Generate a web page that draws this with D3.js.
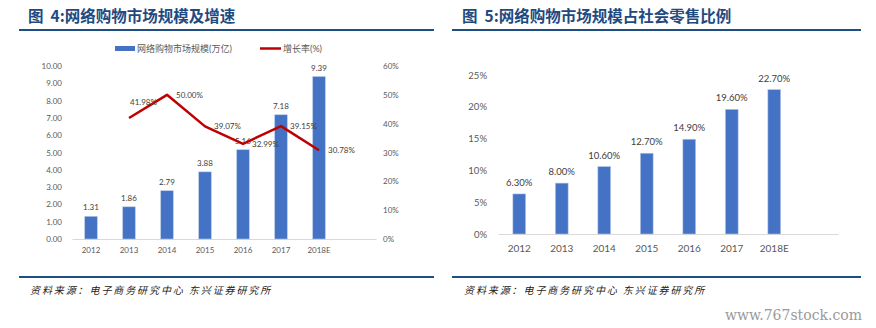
<!DOCTYPE html>
<html>
<head>
<meta charset="utf-8">
<script src="https://cdn.jsdelivr.net/npm/d3@7"></script>
<style>
  body { margin: 0; background: #fff; }
  svg text { font-family: Lato, "Noto Sans CJK SC", sans-serif; }
</style>
</head>
<body>
<div id="container"></div>
<script>
/* DATA */
const years = ["2012", "2013", "2014", "2015", "2016", "2017", "2018E"]
const marketSize = [1.31, 1.86, 2.79, 3.88, 5.16, 7.18, 9.39]        // 万亿
const growthYears = ["2013", "2014", "2015", "2016", "2017", "2018E"]
const growthRate = [41.98, 50.00, 39.07, 32.99, 39.15, 30.78]         // %
const shareOfRetail = [6.30, 8.00, 10.60, 12.70, 14.90, 19.60, 22.70] // %
const leftTicks = [0, 1, 2, 3, 4, 5, 6, 7, 8, 9, 10]
const rightTicks = [0, 10, 20, 30, 40, 50, 60]
const shareTicks = [0, 5, 10, 15, 20, 25]

const width = 876, height = 328
const blue = "#4472c4", red = "#c00000", navy = "#1f4a80", grey = "#595959"

const svg = d3.select("#container")
    .append("svg")
    .attr("width", width)
    .attr("height", height)

// HEADERS & FOOTERS =====================================
function frame(x0, x1, titleX, num, title) {
    const t = svg.append("text")
        .attr("x", titleX)
        .attr("y", 21.5)
        .style("font-family", "'Noto Sans CJK SC', sans-serif")
        .style("font-size", "15.5px")
        .style("font-weight", "bold")
        .attr("fill", navy)
    t.append("tspan").text("图")
    t.append("tspan").attr("dx", 7).text(num + ":" + title)
    svg.append("line")
        .attr("x1", x0).attr("x2", x1)
        .attr("y1", 30).attr("y2", 30)
        .attr("stroke", "#1f4e82").attr("stroke-width", 2)
    svg.append("line")
        .attr("x1", x0).attr("x2", x1)
        .attr("y1", 277).attr("y2", 277)
        .attr("stroke", "#1f4e82").attr("stroke-width", 2)
    svg.append("text")
        .attr("x", titleX + 2)
        .attr("y", 294)
        .style("font-family", "'Noto Sans CJK SC', sans-serif")
        .style("font-size", "10px")
        .style("font-style", "italic")
        .style("letter-spacing", "1.9px")
        .attr("fill", "#222")
        .text("资料来源：电子商务研究中心 东兴证券研究所")
}
frame(19, 434, 28, "4", "网络购物市场规模及增速")
frame(452, 861, 462, "5", "网络购物市场规模占社会零售比例")

// CHART 1: BARS + LINE ==================================
const x1 = d3.scaleBand()
    .domain(years.concat([""]))
    .range([72, 376])
    .paddingInner(0.67)
    .paddingOuter(0.335)

const yL = d3.scaleLinear().domain([0, 10]).range([239, 66])
const yR = d3.scaleLinear().domain([0, 60]).range([239, 66])

// baseline
svg.append("g")
    .attr("transform", "translate(0,239)")
    .call(d3.axisBottom(x1).tickSize(0).tickPadding(8))
    .call(g => g.select(".domain").attr("stroke", "#d9d9d9"))
    .call(g => g.selectAll("text").attr("fill", grey).style("font-size", "8px"))

svg.append("g")
    .attr("transform", "translate(68,0)")
    .call(d3.axisLeft(yL).tickValues(leftTicks).tickFormat(d3.format(".2f")).tickSize(0).tickPadding(6))
    .call(g => g.select(".domain").remove())
    .call(g => g.selectAll("text").attr("fill", grey).style("font-size", "8px"))

svg.append("g")
    .attr("transform", "translate(383,0)")
    .call(d3.axisRight(yR).tickValues(rightTicks).tickFormat(d => d + "%").tickSize(0).tickPadding(0))
    .call(g => g.select(".domain").remove())
    .call(g => g.selectAll("text").attr("fill", grey).style("font-size", "8px"))

svg.append("g").selectAll("rect")
    .data(marketSize)
    .join("rect")
    .attr("x", (d, i) => x1(years[i]))
    .attr("y", d => yL(d))
    .attr("width", x1.bandwidth())
    .attr("height", d => yL(0) - yL(d))
    .attr("fill", blue)
    .attr("stroke", "#b4c7e7").attr("stroke-width", 0.6)

svg.append("g").selectAll("text")
    .data(marketSize)
    .join("text")
    .attr("x", (d, i) => x1(years[i]) + x1.bandwidth() / 2)
    .attr("y", d => yL(d) - 6)
    .attr("text-anchor", "middle")
    .attr("fill", "#404040")
    .style("font-size", "8px")
    .text(d => d.toFixed(2))

const line = d3.line()
    .x((d, i) => x1(growthYears[i]) + x1.bandwidth() / 2)
    .y(d => yR(d))

svg.append("path")
    .datum(growthRate)
    .attr("d", line)
    .attr("fill", "none")
    .attr("stroke", red)
    .attr("stroke-width", 2.5)
    .attr("stroke-linejoin", "round")

svg.append("g").selectAll("text")
    .data(growthRate)
    .join("text")
    .attr("x", (d, i) => x1(growthYears[i]) + x1.bandwidth() / 2 + (i === 0 ? 1 : 9))
    .attr("y", (d, i) => yR(d) + (i === 0 ? -13 : 3))
    .attr("fill", "#404040")
    .style("font-size", "8px")
    .text(d => d.toFixed(2) + "%")

// legend
svg.append("rect")
    .attr("x", 115).attr("y", 46).attr("width", 20).attr("height", 5)
    .attr("fill", blue)
svg.append("text")
    .attr("x", 137).attr("y", 52)
    .attr("fill", grey)
    .style("font-size", "9px")
    .text("网络购物市场规模(万亿)")
svg.append("line")
    .attr("x1", 260).attr("x2", 281).attr("y1", 48.5).attr("y2", 48.5)
    .attr("stroke", red).attr("stroke-width", 2.5)
svg.append("text")
    .attr("x", 283).attr("y", 52)
    .attr("fill", grey)
    .style("font-size", "9px")
    .text("增长率(%)")

// CHART 2: SHARE OF RETAIL ==============================
const x2 = d3.scaleBand()
    .domain(years.concat([""]))
    .range([498, 838])
    .paddingInner(0.7)
    .paddingOuter(0.35)

const y2 = d3.scaleLinear().domain([0, 25]).range([234, 75])

svg.append("g")
    .attr("transform", "translate(0,234)")
    .call(d3.axisBottom(x2).tickSize(0).tickPadding(11))
    .call(g => g.select(".domain").attr("stroke", "#d9d9d9"))
    .call(g => g.selectAll("text").attr("fill", grey).style("font-size", "10px"))

svg.append("g")
    .attr("transform", "translate(490,0)")
    .call(d3.axisLeft(y2).tickValues(shareTicks).tickFormat(d => d + "%").tickSize(0).tickPadding(3))
    .call(g => g.select(".domain").remove())
    .call(g => g.selectAll("text").attr("fill", grey).style("font-size", "9.5px"))

svg.append("g").selectAll("rect")
    .data(shareOfRetail)
    .join("rect")
    .attr("x", (d, i) => x2(years[i]))
    .attr("y", d => y2(d))
    .attr("width", x2.bandwidth())
    .attr("height", d => y2(0) - y2(d))
    .attr("fill", blue)
    .attr("stroke", "#b4c7e7").attr("stroke-width", 0.6)

svg.append("g").selectAll("text")
    .data(shareOfRetail)
    .join("text")
    .attr("x", (d, i) => x2(years[i]) + x2.bandwidth() / 2)
    .attr("y", d => y2(d) - 8)
    .attr("text-anchor", "middle")
    .attr("fill", "#404040")
    .style("font-size", "9.5px")
    .text(d => d.toFixed(2) + "%")

// watermark
svg.append("text")
    .attr("x", 862).attr("y", 320)
    .attr("text-anchor", "end")
    .attr("fill", "#9a9a9a")
    .style("font-family", "'DejaVu Serif', serif")
    .style("font-size", "14px")
    .text("www.767stock.com")
</script>
</body>
</html>
